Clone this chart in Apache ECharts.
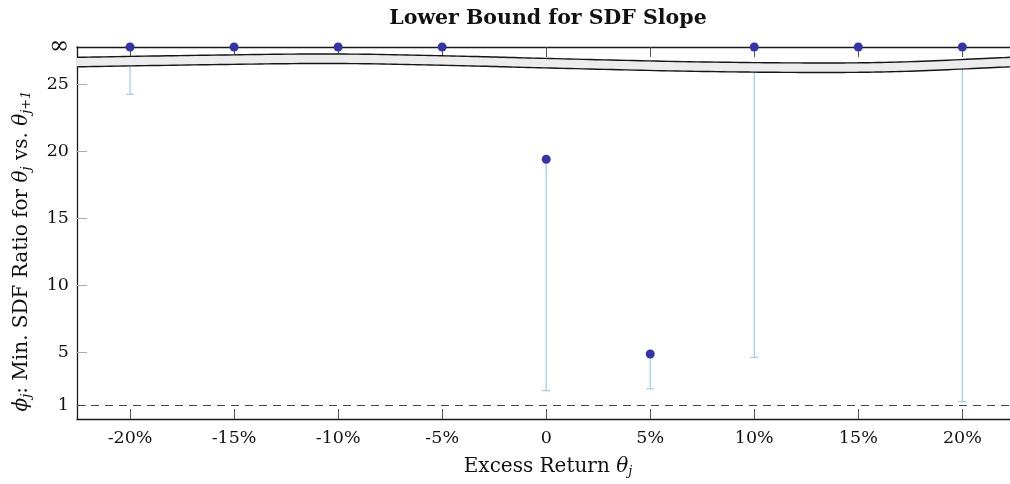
<!DOCTYPE html>
<html>
<head>
<meta charset="utf-8">
<script src="https://cdn.jsdelivr.net/npm/echarts@6/dist/echarts.min.js"></script>
<style>
  html, body { margin: 0; padding: 0; background: #fff; }
  #chart { width: 1010px; height: 484px; }
</style>
</head>
<body>
<div id="chart"></div>
<script>
// ---------------- data ----------------
const INF = Infinity;                                   // "∞" (unbounded) values
const excessReturn = [-20, -15, -10, -5, 0, 5, 10, 15, 20];          // θ_j in %
const phiMin       = [INF, INF, INF, INF, 19.38, 4.85, INF, INF, INF]; // φ_j point
const phiLower     = [24.23, null, null, null, 2.11, 2.25, 4.6, null, 1.29]; // lower end of bar
const xTickValues  = [-20, -15, -10, -5, 0, 5, 10, 15, 20];
const yTickValues  = [1, 5, 10, 15, 20, 25];
const phiFloor     = 1;                                  // dashed reference line

// ---------------- layout / decoration constants ----------------
const INF_POS = 27.76;          // where ∞ is drawn on the axis
const X_MIN = -22.55, X_MAX = 22.29;
const BAR_CLIP = 26.5;          // bars of ∞ points disappear under the break band
const BREAK_X   = [-22.55, -16.6, -10.3, -4.5, 0.2, 6.9, 12.7, 17, 22.29];
const BREAK_TOP = [26.99, 27.14, 27.24, 27.09, 26.90, 26.66, 26.57, 26.64, 26.99];
const BREAK_THICK = 0.71;
const FONT = 'DejaVu Serif';
const POINT_COLOR = '#3333aa';
const BAR_COLOR = '#9ccaf5';

const plotY = v => (v === INF ? INF_POS : v);

const pointData = excessReturn.map((x, i) => [x, plotY(phiMin[i])]);
const barData = [];
excessReturn.forEach((x, i) => {
  if (phiLower[i] !== null) {
    barData.push([x, phiLower[i], Math.min(plotY(phiMin[i]), BAR_CLIP)]);
  }
});

function catmull(pts, steps) {
  const out = [];
  const n = pts.length;
  for (let i = 0; i < n - 1; i++) {
    const p0 = pts[Math.max(i - 1, 0)], p1 = pts[i], p2 = pts[i + 1], p3 = pts[Math.min(i + 2, n - 1)];
    for (let s = 0; s < steps; s++) {
      const t = s / steps, t2 = t * t, t3 = t2 * t;
      const f = k => 0.5 * ((2 * p1[k]) + (-p0[k] + p2[k]) * t +
        (2 * p0[k] - 5 * p1[k] + 4 * p2[k] - p3[k]) * t2 +
        (-p0[k] + 3 * p1[k] - 3 * p2[k] + p3[k]) * t3);
      out.push([f(0), f(1)]);
    }
  }
  out.push(pts[n - 1].slice());
  return out;
}

const chart = echarts.init(document.getElementById('chart'), null, { renderer: 'canvas' });

const richSub = {
  i: { fontFamily: FONT, fontSize: 20, fontStyle: 'italic', fill: '#111' },
  sub: { fontFamily: FONT, fontSize: 13, fontStyle: 'italic', padding: [10, 0, 0, 0], fill: '#111' }
};

const option = {
  animation: false,
  backgroundColor: '#fff',
  grid: { left: 77, right: 0, top: 47, bottom: 65, containLabel: false },
  xAxis: [
    {
      type: 'value', position: 'bottom', min: X_MIN, max: X_MAX,
      axisLine: { show: true, onZero: false, lineStyle: { color: '#1a1a1a', width: 1.3 } },
      axisTick: { show: true, inside: true, length: 10, customValues: xTickValues,
                  lineStyle: { color: '#555', width: 1 } },
      axisLabel: { show: true, customValues: xTickValues, margin: 10,
                   fontFamily: FONT, fontSize: 17.5, color: '#111',
                   formatter: v => (v === 0 ? '0' : v + '%') },
      splitLine: { show: false }
    },
    {
      type: 'value', position: 'top', min: X_MIN, max: X_MAX,
      axisLine: { show: true, onZero: false, lineStyle: { color: '#1a1a1a', width: 1.3 } },
      axisTick: { show: true, inside: true, length: 10, customValues: xTickValues,
                  lineStyle: { color: '#555', width: 1 } },
      axisLabel: { show: false },
      splitLine: { show: false }
    }
  ],
  yAxis: {
    type: 'value', position: 'left', min: 0, max: INF_POS,
    axisLine: { show: true, onZero: false, lineStyle: { color: '#1a1a1a', width: 1.3 } },
    axisTick: { show: true, inside: true, length: 10, customValues: yTickValues,
                lineStyle: { color: '#aaa', width: 1 } },
    axisLabel: { show: true, customValues: yTickValues.concat([INF_POS]), margin: 8,
                 fontFamily: FONT, fontSize: 17.5, color: '#111',
                 rich: { inf: { fontFamily: FONT, fontSize: 24, color: '#111' } },
                 formatter: v => (Math.abs(v - INF_POS) < 1e-6 ? '{inf|∞}' : String(v)) },
    splitLine: { show: false }
  },
  series: [
    {
      type: 'custom', name: 'bounds', xAxisIndex: 0, z: 2, silent: true,
      encode: { x: 0, y: [1, 2] },
      data: barData,
      renderItem: function (params, api) {
        const x = api.value(0), lo = api.value(1), hi = api.value(2);
        const pHi = api.coord([x, hi]), pLo = api.coord([x, lo]);
        const st = { stroke: BAR_COLOR, lineWidth: 1.2 };
        return {
          type: 'group',
          children: [
            { type: 'line', shape: { x1: pHi[0], y1: pHi[1], x2: pLo[0], y2: pLo[1] }, style: st },
            { type: 'line', shape: { x1: pLo[0] - 4, y1: pLo[1], x2: pLo[0] + 4, y2: pLo[1] }, style: st }
          ]
        };
      }
    },
    {
      type: 'line', name: 'floor', data: [], xAxisIndex: 0, silent: true,
      markLine: {
        silent: true, symbol: 'none', animation: false,
        label: { show: false },
        lineStyle: { color: '#444', type: [8, 6], width: 1.2 },
        data: [{ yAxis: phiFloor }]
      }
    },
    {
      type: 'custom', name: 'break', xAxisIndex: 0, z: 3, silent: true, clip: false,
      data: [[0, 0]],
      renderItem: function (params, api) {
        const top = BREAK_X.map((x, i) => api.coord([x, BREAK_TOP[i]]));
        const bot = BREAK_X.map((x, i) => api.coord([x, BREAK_TOP[i] - BREAK_THICK]));
        const topS = catmull(top, 20), botS = catmull(bot, 20);
        return {
          type: 'group',
          children: [
            { type: 'polygon', shape: { points: topS.concat(botS.slice().reverse()) },
              style: { fill: '#ececec', stroke: null } },
            { type: 'polyline', shape: { points: topS }, style: { stroke: '#151515', lineWidth: 1.4, fill: null } },
            { type: 'polyline', shape: { points: botS }, style: { stroke: '#151515', lineWidth: 1.4, fill: null } }
          ]
        };
      }
    },
    {
      type: 'scatter', name: 'phi', xAxisIndex: 0, z: 4,
      symbol: 'circle', symbolSize: 9,
      itemStyle: { color: POINT_COLOR, opacity: 1 },
      data: pointData
    }
  ],
  graphic: [
    {
      type: 'text', x: 548, y: 19, z: 10,
      style: { text: 'Lower Bound for SDF Slope', fontFamily: FONT, fontSize: 20.5, fontWeight: 'bold',
               fill: '#111', align: 'center', verticalAlign: 'middle' }
    },
    {
      type: 'text', x: 548, y: 467, z: 10,
      style: { text: 'Excess Return {i|θ}{sub|j}', fontFamily: FONT, fontSize: 20, fill: '#111',
               align: 'center', verticalAlign: 'middle', rich: richSub }
    },
    {
      type: 'text', x: 22, y: 251, z: 10, rotation: Math.PI / 2,
      style: { text: '{i|ϕ}{sub|j}: Min. SDF Ratio for {i|θ}{sub|j} vs. {i|θ}{sub|j+1}',
               fontFamily: FONT, fontSize: 20, fill: '#111',
               align: 'center', verticalAlign: 'middle', rich: richSub }
    }
  ]
};

chart.setOption(option);
</script>
</body>
</html>
